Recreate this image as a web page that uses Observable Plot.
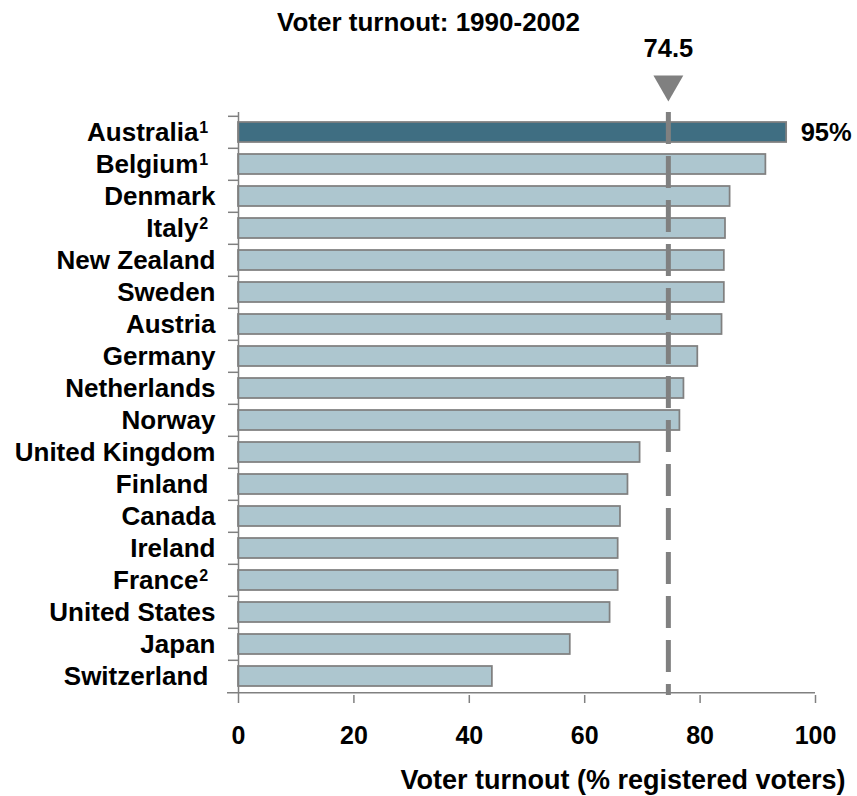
<!DOCTYPE html>
<html>
<head>
<meta charset="utf-8">
<script src="https://cdn.jsdelivr.net/npm/d3@7"></script>
<script src="https://cdn.jsdelivr.net/npm/@observablehq/plot@0.6"></script>
<style>
  body { margin: 0; background: #fff; font-family: "Liberation Sans", Arial, sans-serif; }
  #chart { width: 857px; }
  #title {
    height: 40px; box-sizing: border-box; padding-top: 2px;
    line-height: 40px; text-align: center;
    font-size: 26px; font-weight: bold; color: #000; white-space: nowrap;
  }
  #chart svg { display: block; overflow: visible; }
</style>
</head>
<body>
<div id="chart">
  <div id="title">Voter turnout: 1990-2002</div>
</div>
<script>
// Countries, top to bottom (superscripts are the footnote markers)
const countries = [
  "Australia¹\u00a0", "Belgium¹\u00a0", "Denmark", "Italy²\u00a0", "New Zealand",
  "Sweden", "Austria", "Germany", "Netherlands", "Norway", "United Kingdom",
  "Finland\u00a0", "Canada", "Ireland", "France²\u00a0", "United States",
  "Japan", "Switzerland\u00a0"
];
// Voter turnout, % of registered voters
const turnout = [
  95, 91.4, 85.2, 84.4, 84.2,
  84.2, 83.8, 79.6, 77.2, 76.5, 69.6,
  67.5, 66.2, 65.8, 65.8, 64.4,
  57.5, 44.0
];
const highlighted = ["Australia¹\u00a0"];
const average = [74.5];
const xTicks = [0, 20, 40, 60, 80, 100];
const xLabel = "Voter turnout (% registered voters)";

const rows = countries.map((name, i) => ({name, value: turnout[i]}));
const lead = rows.filter(d => highlighted.includes(d.name));
const rest = rows.filter(d => !highlighted.includes(d.name));

const grey = "#808080";
const bandStep = 583 / countries.length;

const chart = Plot.plot({
  width: 857,
  height: 756,
  marginTop: 72,
  marginBottom: 101,
  marginLeft: 238,
  marginRight: 42,
  style: {
    fontFamily: "'Liberation Sans', Arial, sans-serif",
    fontWeight: "bold",
    color: "#000",
    background: "#fff",
    overflow: "visible"
  },
  x: {domain: [0, 100]},
  y: {domain: countries, paddingInner: 0.38, paddingOuter: 0.19},
  marks: [
    Plot.barX(rest, {x: "value", y: "name", fill: "#adc6cf", stroke: grey, strokeWidth: 1.75}),
    Plot.barX(lead, {x: "value", y: "name", fill: "#3f6e82", stroke: grey, strokeWidth: 1.75}),
    // average line
    Plot.ruleX(average, {x: d => d, stroke: grey, strokeWidth: 5, strokeDasharray: "32,12"}),
    // y axis line and category separators
    Plot.ruleX([0], {stroke: grey, strokeWidth: 1.5}),
    Plot.ruleY(countries, {y: d => d, x1: 0, x2: 0, insetLeft: -10, dy: -bandStep / 2, stroke: grey, strokeWidth: 1.5}),
    // x axis line
    Plot.ruleY(countries.slice(-1), {y: d => d, x1: 0, x2: 100, insetLeft: -11, dy: bandStep / 2, stroke: grey, strokeWidth: 1.5}),
    Plot.axisX({ticks: xTicks, tickSize: 8, tickPadding: 23, fontSize: 25, stroke: grey, strokeWidth: 1.5, fill: "#000", label: null}),
    Plot.axisY({tickSize: 0, tickPadding: 23, fontSize: 26, fill: "#000", label: null}),
    // value label on the leading bar
    Plot.text(lead, {x: "value", y: "name", text: d => `${d.value}%`, dx: 14, textAnchor: "start", fontSize: 25.5, fill: "#000"}),
    // average marker and its label
    Plot.dot(average, {x: d => d, frameAnchor: "top", dy: -28.3, symbol: "triangle", r: 11.1, rotate: 180, fill: grey, stroke: "none"}),
    Plot.text(average, {x: d => d, text: d => `${d}`, frameAnchor: "top", dy: -55.3, lineAnchor: "bottom", fontSize: 25.5, fill: "#000"}),
    // x axis title
    Plot.text([xLabel], {text: d => d, frameAnchor: "bottom-right", dx: 30, dy: 93.3, lineAnchor: "bottom", textAnchor: "end", fontSize: 27, fill: "#000"})
  ]
});

// Render footnote markers in the country labels as raised digits
const supDigits = {"¹": "1", "²": "2"};
d3.select(chart).selectAll('g[aria-label="y-axis tick label"] text').each(function () {
  const label = this.textContent;
  const m = label.match(/^(.*?)([¹²])(.*)$/);
  if (!m) return;
  const t = d3.select(this).text(null);
  t.append("tspan").text(m[1]);
  t.append("tspan").attr("font-size", "16px").attr("dx", "1").attr("dy", "-8").text(supDigits[m[2]]);
  t.append("tspan").attr("dy", "8").text(m[3]);
});

document.getElementById("chart").appendChild(chart);
</script>
</body>
</html>
